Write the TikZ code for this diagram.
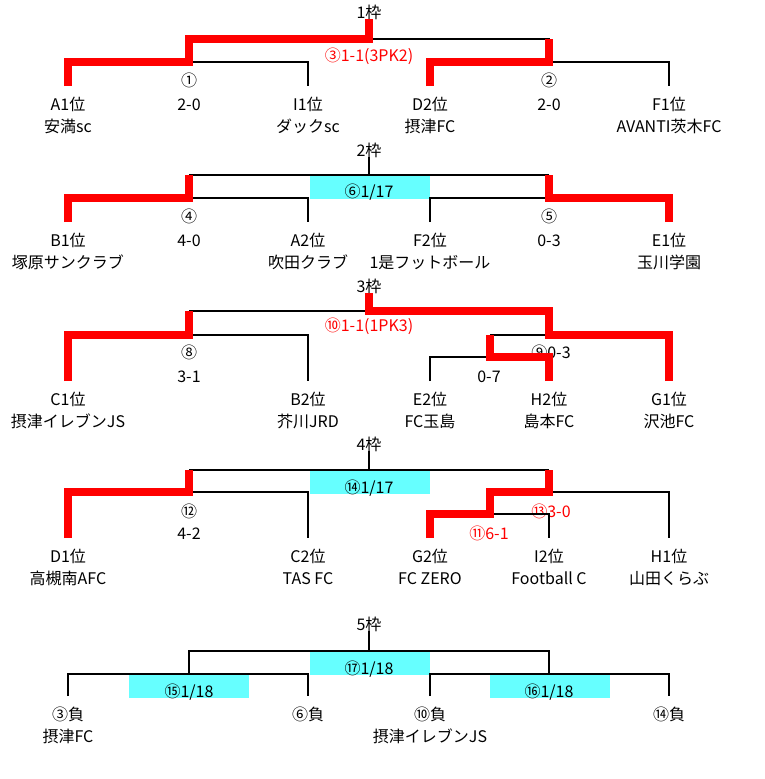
\documentclass[tikz,border=0pt]{standalone}
\usepackage{fontspec}
\setmainfont{Noto Sans CJK JP}
\usetikzlibrary{calc}
\definecolor{datecyan}{RGB}{102,255,255}
\def\team#1(#2,#3)#4#5{\node (#1) at (#2,#3) {#4}; \node (#1n) at (#2,#3+22) {#5}; \coordinate (#1f) at (#2,#3-24);}

\begin{document}
\begin{tikzpicture}[x=1pt,y=-1pt,
  every node/.style={anchor=base,inner sep=0pt,font=\fontsize{16}{16}\selectfont},
  lose/.style={line width=2.8pt},
  win/.style={line width=8pt,red},
  datebox/.style={fill=datecyan}]
\useasboundingbox (0,0) rectangle (765,779);
% 1枠
\node (t1) at (369,18) {1枠};
\team{a1}(68,110){A1位}{安満sc}
\team{i1}(308,110){I1位}{ダックsc}
\team{d2}(430,110){D2位}{摂津FC}
\team{f1}(669,110){F1位}{AVANTI茨木FC}
\coordinate (n1) at (189,62);
\coordinate (n2) at (549,62);
\coordinate (n3) at (369,39);
\node (k1) at (189,86) {①};
\node (sc1) at (189,110) {2-0};
\node (k2) at (549,86) {②};
\node (sc2) at (549,110) {2-0};
\node[red] (sc3) at (369,61) {③1-1(3PK2)};
\draw[lose] (n1) -| (i1f);
\draw[lose] (n2) -| (f1f);
\draw[lose] (n3) -| (n2);
\draw[win] (a1f) |- (n1) |- (n3) -- (t1);
\draw[win] (d2f) |- (n2) -- (n2 |- n3);
% 2枠
\node (t2) at (369,156) {2枠};
\team{b1}(68,246){B1位}{塚原サンクラブ}
\team{a2}(308,246){A2位}{吹田クラブ}
\team{f2}(430,246){F2位}{1是フットボール}
\team{e1}(669,246){E1位}{玉川学園}
\coordinate (n4) at (189,198);
\coordinate (n5) at (549,198);
\coordinate (n6) at (369,175);
\fill[datebox] (310,175) rectangle (430,199);
\node (sc6) at (369,197) {⑥1/17};
\node (k4) at (189,222) {④};
\node (sc4) at (189,246) {4-0};
\node (k5) at (549,222) {⑤};
\node (sc5) at (549,246) {0-3};
\draw[lose] (n4) -| (a2f);
\draw[lose] (f2f) |- (n5);
\draw[lose] (n4 |- n6) -- (n5 |- n6);
\draw[lose] (n6) -- (t2);
\draw[win] (b1f) |- (n4) -- (n4 |- n6);
\draw[win] (e1f) |- (n5) -- (n5 |- n6);
% 3枠
\node (t3) at (369,292) {3枠};
\team{c1}(68,405){C1位}{摂津イレブンJS}
\team{b2}(308,405){B2位}{芥川JRD}
\team{e2}(430,405){E2位}{FC玉島}
\team{h2}(549,405){H2位}{島本FC}
\team{g1}(669,405){G1位}{沢池FC}
\coordinate (n8) at (189,335);
\coordinate (n7) at (490,357);
\coordinate (n9) at (549,335);
\coordinate (n10) at (369,311);
\node (k8) at (189,358) {⑧};
\node (sc8) at (189,382) {3-1};
\node[red] (sc10) at (369,331) {⑩1-1(1PK3)};
\node (sc9) at (551,358) {⑨0-3};
\node (sc7) at (489,382) {0-7};
\draw[lose] (n8) -| (b2f);
\draw[lose] (n8 |- n10) -- (n10);
\draw[lose] (e2f) |- (n7);
\draw[lose] (n7 |- n9) -- (n9);
\draw[win] (c1f) |- (n8) -- (n8 |- n10);
\draw[win] (h2f) |- (n7) -- (n7 |- n9);
\draw[win] (g1f) |- (n9) |- (n10) -- (t3);
% 4枠
\node (t4) at (369,450) {4枠};
\team{d1}(68,562){D1位}{高槻南AFC}
\team{c2}(308,562){C2位}{TAS FC}
\team{g2}(430,562){G2位}{FC ZERO}
\team{i2}(549,562){I2位}{Football C}
\team{h1}(669,562){H1位}{山田くらぶ}
\coordinate (n12) at (189,492);
\coordinate (n11) at (490,514);
\coordinate (n13) at (549,492);
\coordinate (n14) at (369,470);
\fill[datebox] (310,470) rectangle (430,494);
\node (sc14) at (369,493) {⑭1/17};
\node (k12) at (189,517) {⑫};
\node (sc12) at (189,539) {4-2};
\node[red] (sc13) at (551,517) {⑬3-0};
\node[red] (sc11) at (489,539) {⑪6-1};
\draw[lose] (n12) -| (c2f);
\draw[lose] (n11) -| (i2f);
\draw[lose] (n13) -| (h1f);
\draw[lose] (n12 |- n14) -- (n13 |- n14);
\draw[lose] (n14) -- (t4);
\draw[win] (d1f) |- (n12) -- (n12 |- n14);
\draw[win] (g2f) |- (n11) |- (n13) -- (n13 |- n14);
% 5枠
\node (t5) at (369,630) {5枠};
\team{l3}(68,720){③負}{摂津FC}
\team{l6}(308,720){⑥負}{}
\team{l10}(430,720){⑩負}{摂津イレブンJS}
\team{l14}(669,720){⑭負}{}
\coordinate (n15) at (189,674);
\coordinate (n16) at (549,674);
\coordinate (n17) at (369,651);
\fill[datebox] (310,651) rectangle (430,675);
\fill[datebox] (129,674) rectangle (249,698);
\fill[datebox] (490,674) rectangle (610,698);
\node (sc17) at (369,674) {⑰1/18};
\node (sc15) at (189,697) {⑮1/18};
\node (sc16) at (549,697) {⑯1/18};
\draw[lose] (l3f) |- (n15) -| (l6f);
\draw[lose] (l10f) |- (n16) -| (l14f);
\draw[lose] (n15) |- (n17) -| (n16);
\draw[lose] (n17) -- (t5);
\end{tikzpicture}
\end{document}
